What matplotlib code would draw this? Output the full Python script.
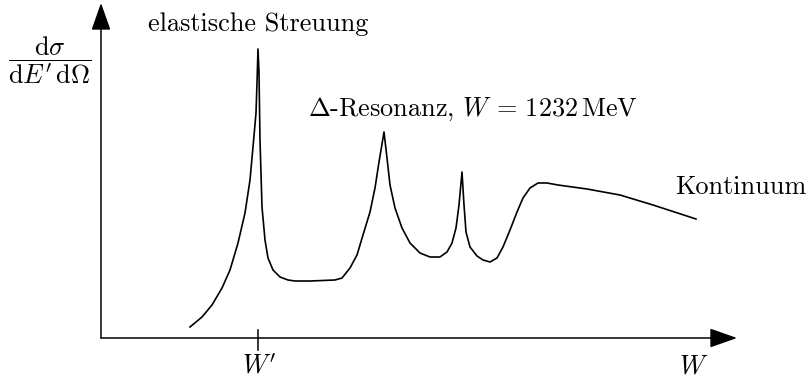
import matplotlib
matplotlib.use('Agg')
import matplotlib.pyplot as plt

plt.rcParams['mathtext.fontset'] = 'cm'
plt.rcParams['axes.formatter.use_mathtext'] = True

# curve (W in arbitrary units, cross section in arbitrary units)
w_vals = [89, 101, 111, 121, 129, 137, 144, 149, 152, 155, 156, 157,
          158, 159, 161, 164, 167, 172, 179, 187, 194, 209, 234, 241,
          249, 256, 262, 269, 274, 278, 283, 286, 289, 294, 301, 309,
          319, 329, 339, 346, 351, 355, 358, 361, 363, 365, 369, 376,
          382, 389, 396, 402, 409, 416, 422, 429, 437, 446, 457, 486,
          519, 552, 595]
sigma_vals = [11, 21, 33, 50, 68, 95, 125, 158, 191, 225, 255, 289,
              265, 198, 131, 98, 80, 68, 61, 58, 57, 57, 58, 60,
              70, 83, 103, 126, 150, 176, 206, 180, 153, 130, 110, 95,
              85, 81, 81, 86, 95, 110, 133, 166, 133, 106, 91, 82,
              78, 76, 80, 91, 108, 126, 140, 150, 155, 155, 153, 149,
              143, 133, 119]

w_prime = 157
w_end = 636
sigma_end = 335

fig = plt.figure(figsize=(8.08, 3.8), dpi=100)
ax = fig.add_axes([0, 0, 1, 1])
ax.set_xlim(-101, 707)
ax.set_ylim(-42, 338)
ax.axis('off')

# axes with arrow heads
arrow = dict(arrowstyle='-|>,head_length=17,head_width=6', mutation_scale=1,
             lw=1.1, color='black', shrinkA=0, shrinkB=0)
ax.annotate('', xy=(w_end, 0), xytext=(0, 0), arrowprops=arrow)
ax.annotate('', xy=(0, sigma_end), xytext=(0, 0), arrowprops=arrow)

# tick at W'
ax.plot([w_prime, w_prime], [8, -12], color='black', lw=1.1)

ax.plot(w_vals, sigma_vals, color='black', lw=1.2, solid_joinstyle='round')

fs = 18.9
ax.text(w_prime + 1, -35, r"$W'$", ha='center', va='baseline', fontsize=fs)
ax.text(593, -35, r'$W$', ha='center', va='baseline', fontsize=fs)
ax.text(-51, 278, r'$\dfrac{\mathrm{d}\sigma}{\mathrm{d}E^{\prime}\,\mathrm{d}\Omega}$',
        ha='center', va='center', fontsize=fs)
ax.text(47, 307, 'elastische Streuung', ha='left', va='baseline', fontsize=fs,
        family='cmr10')
ax.text(207, 222, r'$\Delta$-Resonanz, $W\,=\,1232\,\mathrm{MeV}$', ha='left',
        va='baseline', fontsize=fs, family='cmr10')
ax.text(574, 144, 'Kontinuum', ha='left', va='baseline', fontsize=fs, family='cmr10')

fig.savefig('out.png', dpi=100)
